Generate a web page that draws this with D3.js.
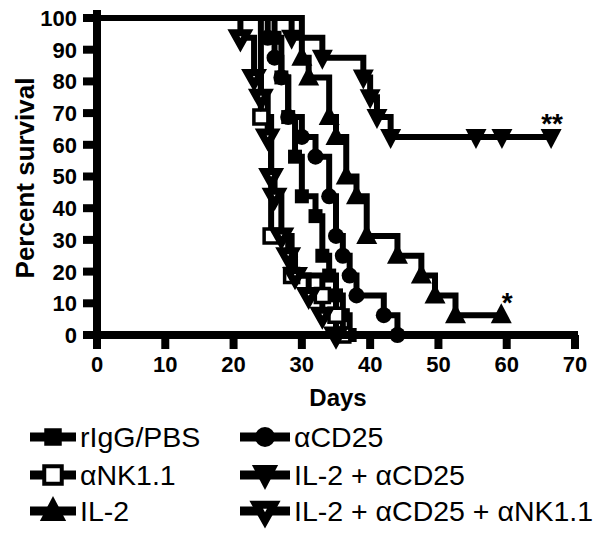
<!DOCTYPE html>
<html><head><meta charset="utf-8">
<script src="https://cdn.jsdelivr.net/npm/d3@7/dist/d3.min.js"></script>
<style>body{margin:0;background:#fff}svg{display:block}</style>
</head><body>
<svg id="c" width="602" height="536"></svg>
<script>
// ---- data ----
const xTicks = [0,10,20,30,40,50,60,70];
const yTicks = [0,10,20,30,40,50,60,70,80,90,100];

const riggDays = [26,27,28,29,30,32,33,34,35,36,37];
const riggSurv = [93.75,81.25,68.75,56.25,43.75,37.5,25,18.75,12.5,6.25,0];

const cd25Days = [25,26,27,28,30,32,34,35,36,37,38,42,44];
const cd25Surv = [93.75,87.5,81.25,68.75,62.5,56.25,43.75,31.25,25,18.75,12.5,6.25,0];

const nkDays = [24,25.5,28.5,33,35,36];
const nkSurv = [68.75,31.25,18.75,12.5,6.25,0];

const il2Days = [30,31,34,35,36.5,38,39.5,44,47.5,49.5,52.5];
const il2Surv = [87.5,81.25,68.75,62.5,50,43.75,31.25,25,18.75,12.5,6.25];
const il2Censor = [59.2];

const il2cdDays = [28.5,33,39,40,41,43];
const il2cdSurv = [93.75,87.5,81.25,75,68.75,62.5];
const il2cdCensor = [55.5,59.3,66.5];

const tripDays = [21,23,24,25,25.5,26,27,28,29,31,33,35];
const tripSurv = [93.75,81.25,75,62.5,50,43.75,31.25,25,18.75,12.5,6.25,0];

const seriesNames = ["rIgG/PBS","\u03b1NK1.1","IL-2","\u03b1CD25","IL-2 + \u03b1CD25","IL-2 + \u03b1CD25 + \u03b1NK1.1"];

const series = [
  {name:seriesNames[0], days:riggDays, surv:riggSurv, censor:[], sym:"square", open:false},
  {name:seriesNames[1], days:nkDays, surv:nkSurv, censor:[], sym:"square", open:true},
  {name:seriesNames[2], days:il2Days, surv:il2Surv, censor:il2Censor, sym:"up", open:false},
  {name:seriesNames[3], days:cd25Days, surv:cd25Surv, censor:[], sym:"circle", open:false},
  {name:seriesNames[4], days:il2cdDays, surv:il2cdSurv, censor:il2cdCensor, sym:"down", open:false},
  {name:seriesNames[5], days:tripDays, surv:tripSurv, censor:[], sym:"downOpen", open:true}
];

// ---- drawing ----
const FONT = "Liberation Sans, Arial, Helvetica, sans-serif";
const svg = d3.select("#c");
const x = d3.scaleLinear().domain([0,70]).range([97,575]);
const y = d3.scaleLinear().domain([0,100]).range([335,18]);

function symPath(type, s){
  if(type==="square"){const h=7*s;return `M${-h},${-h}H${h}V${h}H${-h}Z`;}
  if(type==="circle"){const r=8*s;return `M${r},0A${r},${r} 0 1,1 ${-r},0A${r},${r} 0 1,1 ${r},0Z`;}
  if(type==="down"){const w=10.5*s;return `M${-w},${-8*s}H${w}L0,${12*s}Z`;}
  if(type==="downOpen"){const w=7*s;return `M${-w},${-5*s}H${w}L0,${7.5*s}Z`;}
  if(type==="up"){const w=10.5*s;return `M${-w},${8*s}H${w}L0,${-12*s}Z`;}
}
function symStroke(sr){ return sr.sym==="downOpen" ? 7 : (sr.open ? 3.5 : 0); }

const plot = svg.append("g");
const line = d3.line().x(d=>x(d[0])).y(d=>y(d[1])).curve(d3.curveStepAfter);

series.forEach(sr=>{
  const pts = [[0,100]];
  sr.days.forEach((d,i)=>pts.push([d, sr.surv[i]]));
  const last = sr.surv[sr.surv.length-1];
  if(sr.censor.length){ pts.push([sr.censor[sr.censor.length-1], last]); }
  plot.append("path").attr("d", line(pts)).attr("fill","none")
    .attr("stroke","#000").attr("stroke-width",6).attr("stroke-linejoin","miter");
});
series.forEach(sr=>{
  const marks = sr.days.map((d,i)=>[d, sr.surv[i]]);
  const last = sr.surv[sr.surv.length-1];
  sr.censor.forEach(c=>marks.push([c,last]));
  plot.selectAll(null).data(marks).enter().append("path")
    .attr("transform", d=>`translate(${x(d[0])},${y(d[1])})`)
    .attr("d", symPath(sr.sym,1))
    .attr("fill", sr.open ? "#fff" : "#000")
    .attr("stroke","#000").attr("stroke-width", symStroke(sr)).attr("stroke-linejoin","miter");
});

// axes
const ax = svg.append("g");
ax.append("line").attr("x1",x(0)).attr("x2",x(0)).attr("y1",y(100)-8).attr("y2",y(0)+4)
  .attr("stroke","#000").attr("stroke-width",8);
ax.append("line").attr("x1",x(0)-4).attr("x2",x(70)+3).attr("y1",y(0)).attr("y2",y(0))
  .attr("stroke","#000").attr("stroke-width",8);
yTicks.forEach(t=>{
  ax.append("line").attr("x1",x(0)-14).attr("x2",x(0)).attr("y1",y(t)).attr("y2",y(t))
    .attr("stroke","#000").attr("stroke-width",8);
  ax.append("text").attr("x",77).attr("y",y(t)).attr("dy","0.36em").attr("text-anchor","end")
    .attr("font-family",FONT).attr("font-weight","bold")
    .attr("font-size",22).text(t);
});
xTicks.forEach(t=>{
  ax.append("line").attr("x1",x(t)).attr("x2",x(t)).attr("y1",y(0)).attr("y2",y(0)+14)
    .attr("stroke","#000").attr("stroke-width",8);
  ax.append("text").attr("x",x(t)).attr("y",364).attr("dy","0.36em").attr("text-anchor","middle")
    .attr("font-family",FONT).attr("font-weight","bold")
    .attr("font-size",22).text(t);
});
svg.append("text").attr("transform","translate(34,178) rotate(-90)").attr("text-anchor","middle")
  .attr("font-family",FONT).attr("font-weight","bold")
  .attr("font-size",26).text("Percent survival");
svg.append("text").attr("x",338).attr("y",397).attr("dy","0.36em").attr("text-anchor","middle")
  .attr("font-family",FONT).attr("font-weight","bold")
  .attr("font-size",24).text("Days");

// significance stars
svg.append("text").attr("x",x(il2cdCensor[2])+1).attr("y",y(62.5)-4).attr("text-anchor","middle")
  .attr("font-family",FONT).attr("font-weight","bold")
  .attr("font-size",28).text("**");
svg.append("text").attr("x",x(il2Censor[0])+6).attr("y",y(6.25)-3).attr("text-anchor","middle")
  .attr("font-family",FONT).attr("font-weight","bold")
  .attr("font-size",28).text("*");

// legend
const legRows = [437,475,511];
const legCols = [{x1:30,x2:76,tx:80},{x1:240,x2:290,tx:294}];
series.forEach((sr,i)=>{
  const col = legCols[i<3?0:1], row = legRows[i%3];
  const g = svg.append("g");
  g.append("line").attr("x1",col.x1).attr("x2",col.x2).attr("y1",row).attr("y2",row)
    .attr("stroke","#000").attr("stroke-width",9);
  g.append("path").attr("transform",`translate(${(col.x1+col.x2)/2},${row})`)
    .attr("d",symPath(sr.sym,1.25)).attr("fill",sr.open?"#fff":"#000")
    .attr("stroke","#000").attr("stroke-width",sr.sym==="downOpen"?8:(sr.open?4:0));
  g.append("text").attr("x",col.tx).attr("y",row).attr("dy","0.36em")
    .attr("font-family",FONT).attr("font-size",28.5).text(sr.name);
});
</script>
</body></html>
